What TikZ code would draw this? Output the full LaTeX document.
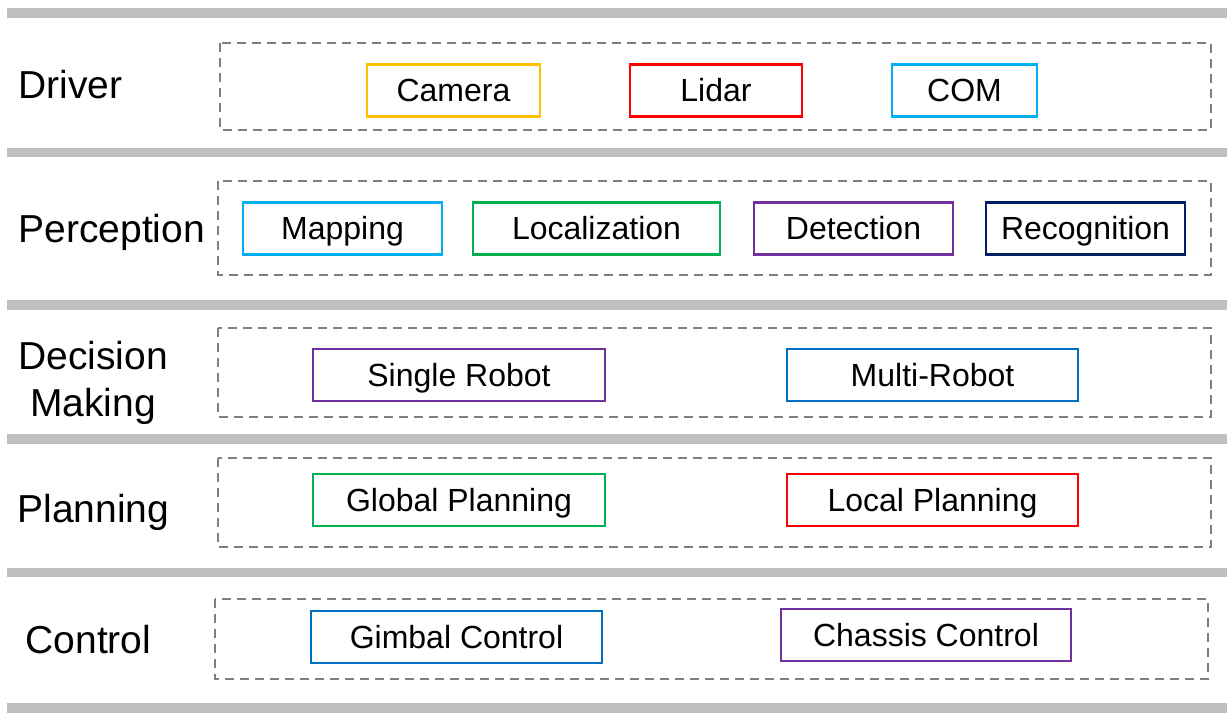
\documentclass[tikz,border=0pt]{standalone}
\usepackage{fontspec}
\setmainfont{Liberation Sans}
\definecolor{barGray}{HTML}{BFBFBF}
\definecolor{layerGray}{HTML}{7F7F7F}
\definecolor{camYellow}{HTML}{FFC000}
\definecolor{offRed}{HTML}{FF0000}
\definecolor{offCyan}{HTML}{00B0F0}
\definecolor{offGreen}{HTML}{00B050}
\definecolor{offPurple}{HTML}{7030A0}
\definecolor{offNavy}{HTML}{002060}
\definecolor{offBlue}{HTML}{0070C0}

\begin{document}
\begin{tikzpicture}[x=1pt, y=-1pt,
  bar/.style = {line width=9.5pt, color=barGray},
  layer/.style = {draw=layerGray, line width=2.2pt, dash pattern=on 9pt off 6pt},
  part/.style = {shape=rectangle, draw, line width=2.4pt, minimum height=52pt,
    font=\fontsize{32}{38}\selectfont, text height=28.8pt, text depth=6.4pt},
  title/.style = {font=\fontsize{39}{47}\selectfont, anchor=base west}]
  \useasboundingbox (0,0) rectangle (1227,718);

  % separators
  \foreach \y in {12.8, 152.5, 305, 439, 572.5, 708}
    \draw[bar] (7,\y) -- (1227,\y);

  % layers
  \draw[layer] (220,43) rectangle (1211,130);
  \draw[layer] (218,181) rectangle (1211,275);
  \draw[layer] (218,328) rectangle (1211,417);
  \draw[layer] (218,458) rectangle (1211,547);
  \draw[layer] (215,599) rectangle (1208,679);

  % layer titles
  \node[title] (driver) at (15,98) {Driver};
  \node[title] (perception) at (15,242) {Perception};
  \node[title, anchor=center, align=center] (decision) at (93,383) {Decision\\Making};
  \node[title] (planning) at (14,522) {Planning};
  \node[title] (control) at (22,653) {Control};

  % driver
  \node[part, draw=camYellow, minimum width=173pt] (camera) at (453.5,90.5) {Camera};
  \node[part, draw=offRed, minimum width=172pt] (lidar) at (716,90.5) {Lidar};
  \node[part, draw=offCyan, minimum width=145pt] (com) at (964.5,90.5) {COM};

  % perception
  \node[part, draw=offCyan, minimum width=199pt] (mapping) at (342.5,228.5) {Mapping};
  \node[part, draw=offGreen, minimum width=247pt] (localization) at (596.5,228.5) {Localization};
  \node[part, draw=offPurple, minimum width=199pt] (detection) at (853.5,228.5) {Detection};
  \node[part, draw=offNavy, minimum width=199pt] (recognition) at (1085.5,228.5) {Recognition};

  % decision making
  \node[part, draw=offPurple, minimum width=292pt] (single) at (459,375) {Single Robot};
  \node[part, draw=offBlue, minimum width=291pt] (multi) at (932.5,375) {Multi-Robot};

  % planning
  \node[part, draw=offGreen, minimum width=292pt] (global) at (459,500) {Global Planning};
  \node[part, draw=offRed, minimum width=291pt] (local) at (932.5,500) {Local Planning};

  % control
  \node[part, draw=offBlue, minimum width=291pt] (gimbal) at (456.5,637) {Gimbal Control};
  \node[part, draw=offPurple, minimum width=290pt] (chassis) at (926,635) {Chassis Control};
\end{tikzpicture}
\end{document}
